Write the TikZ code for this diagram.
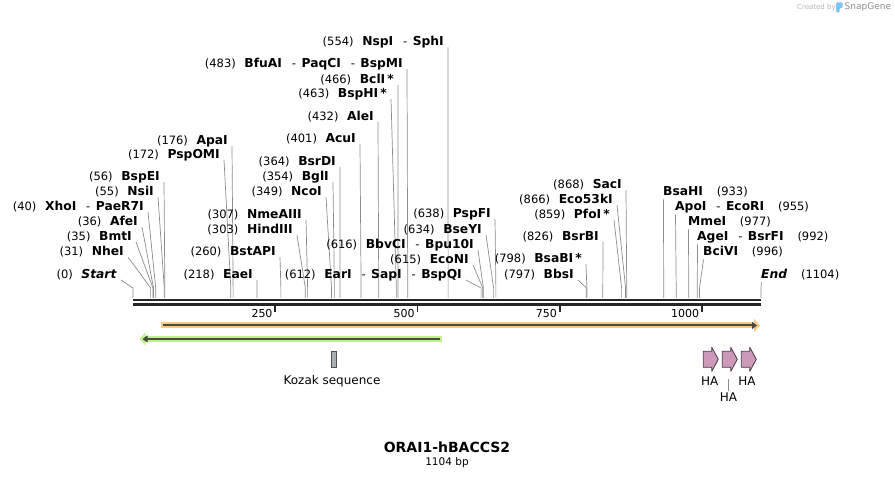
\documentclass[tikz,border=0pt]{standalone}
\usepackage{fontspec}
\setmainfont{DejaVu Sans}
\usetikzlibrary{arrows.meta}
\definecolor{siteGrey}{HTML}{8C8C8C}
\definecolor{barDark}{HTML}{262626}
\definecolor{cdsOrange}{HTML}{F9CB80}
\definecolor{cdsGreen}{HTML}{BDF28F}
\definecolor{featLine}{HTML}{4A4A40}
\definecolor{haPink}{HTML}{CC99B8}
\definecolor{haEdge}{HTML}{4A3A48}
\definecolor{kozakGrey}{HTML}{A9AFB5}
\definecolor{logoGrey}{HTML}{B4B4B4}
\definecolor{logoBlue}{HTML}{7DC6F2}

\newcommand{\dsh}{\hspace{0.8em}{\mdseries\fontsize{11.5}{13}\selectfont -}\hspace{0.45em}}
\newcommand{\enzname}[1]{{\bfseries\fontsize{12.3}{13}\selectfont #1}}
\newcommand{\rsl}[2]{(#1)\hspace{0.75em}\enzname{#2}}
\newcommand{\rsr}[2]{\enzname{#2}\hspace{1.2em}(#1)}

\begin{document}
\begin{tikzpicture}[x=1pt, y=-1pt,
    every node/.style={inner sep=0pt, text=black},
    enz/.style={font=\fontsize{11.5}{13}\selectfont},
    tick/.style={font=\fontsize{11}{12}\selectfont},
    feat/.style={font=\fontsize{12}{14}\selectfont},
    site/.style={draw=siteGrey, line width=0.7pt},
    ruler/.style={draw=barDark, line width=#1},
    hashape/.style={draw=haEdge, fill=haPink, line width=0.8pt, line join=round}]
  \useasboundingbox (0,0) rectangle (895,478);

  \draw[ruler=2pt] (133,300) -- (761,300);
  \draw[ruler=2.6pt] (133,304.3) -- (761,304.3);
  \foreach \t in {250,500,750,1000} {
    \coordinate (tk\t) at ({133+\t*0.5688},305);
    \draw[ruler=1.8pt] (tk\t) -- ++(0,7);
    \node[tick, anchor=east] (tl\t) at ([xshift=-2.5pt,yshift=-8pt]tk\t) {\t};
  }

  \foreach \p/\y/\x/\n in {0/275/117/{\textit{Start}}, 31/252/124/NheI,
      35/237/132/BmtI, 36/222/138/AfeI, 40/207/144/{XhoI\dsh PaeR7I},
      55/192/154/NsiI, 56/177/160/BspEI, 172/155/220/PspOMI, 176/141/228/ApaI,
      218/275/253/EaeI, 260/252/276/BstAPI, 303/230/293/HindIII,
      307/215/302/NmeAIII, 349/192/322/NcoI, 354/177/329/BglI,
      364/162/336/BsrDI, 401/139/356/AcuI, 432/117/374/AleI,
      463/94/387/{BspHI\,*}, 466/80/394/{BclI\,*},
      483/64/403/{BfuAI\dsh PaqCI\dsh BspMI}, 554/42.5/444/{NspI\dsh SphI},
      612/275/462/{EarI\dsh SapI\dsh BspQI}, 615/260/469/EcoNI,
      616/245/474/{BbvCI\dsh Bpu10I}, 634/230/482/BseYI, 638/214/491/PspFI,
      797/275/574/BbsI, 798/259/582/{BsaBI\,*}, 826/237/599/BsrBI,
      859/215/610/{PfoI\,*}, 866/200/613/Eco53kI, 868/185/622/SacI} {
    \node[enz, anchor=east] (e\p) at (\x,\y) {\rsl{\p}{\n}};
    \coordinate (s\p) at ({133+\p*0.5688},298);
    \draw[site] ([shift={(4,5)}]e\p.east) -- ([yshift=10pt]s\p) -- (s\p);
  }
  \foreach \p/\y/\x/\n in {933/192/663/BsaHI, 955/207/675/{ApoI\dsh EcoRI},
      977/222/688/MmeI, 992/237/697/{AgeI\dsh BsrFI}, 996/252/703/BciVI,
      1104/275/761/{\textit{End}}} {
    \node[enz, anchor=west] (e\p) at (\x,\y) {\rsr{\p}{\n}};
    \coordinate (s\p) at ({133+\p*0.5688},298);
    \draw[site] ([shift={(0.5,7.5)}]e\p.west) -- ([yshift=10pt]s\p) -- (s\p);
  }

  \draw[cdsOrange, line width=6pt, -{Triangle[length=6pt, width=13pt]}] (161,325.5) -- (760,325.5);
  \draw[featLine, line width=2pt, -{Triangle[length=5pt, width=7pt]}] (163,325.5) -- (757,325.5);
  \draw[cdsGreen, line width=6pt, -{Triangle[length=6pt, width=13pt]}] (441.5,339) -- (139.5,339);
  \draw[featLine, line width=2pt, -{Triangle[length=5pt, width=7pt]}] (439.5,339) -- (142.5,339);

  \node[draw=barDark!80, fill=kozakGrey, line width=0.8pt, minimum width=5pt, minimum height=16pt] (kozak) at (334.2,359.2) {};
  \node[feat] (kozaklbl) at (332,380.7) {Kozak sequence};

  \foreach \x in {703.3,722.3,741.3}
    \draw[hashape] (\x,351.3) -- ++(8.5,0) -- ++(0,-4) -- ++(6.5,12) -- ++(-6.5,12) -- ++(0,-4) -- ++(-8.5,0) -- cycle;
  \node[feat] (ha1) at (709.8,380.7) {HA};
  \node[feat] (ha2) at (728.5,397.3) {HA};
  \node[feat] (ha3) at (747,380.7) {HA};
  \draw[site] ([yshift=2pt]ha2.north) -- ++(0,-11.5);

  \node[font=\bfseries\fontsize{14}{16}\selectfont] (title) at (447,447) {ORAI1-hBACCS2};
  \node[font=\fontsize{10.5}{12}\selectfont] (size) at (447,463) {1104 bp};

  \node[font=\fontsize{7}{8}\selectfont, text=logoGrey, anchor=west] (made) at (797,7.5) {Created by};
  \fill[logoBlue, rounded corners=1pt] (836,2.5) -- (842.5,2.5) -- (842.5,8) -- (839.5,8) -- (839.5,12.5) -- (836,12.5) -- cycle;
  \node[font=\fontsize{9}{10}\selectfont, text=black!45, anchor=west] (brand) at (844.5,7.5) {SnapGene};
\end{tikzpicture}
\end{document}
